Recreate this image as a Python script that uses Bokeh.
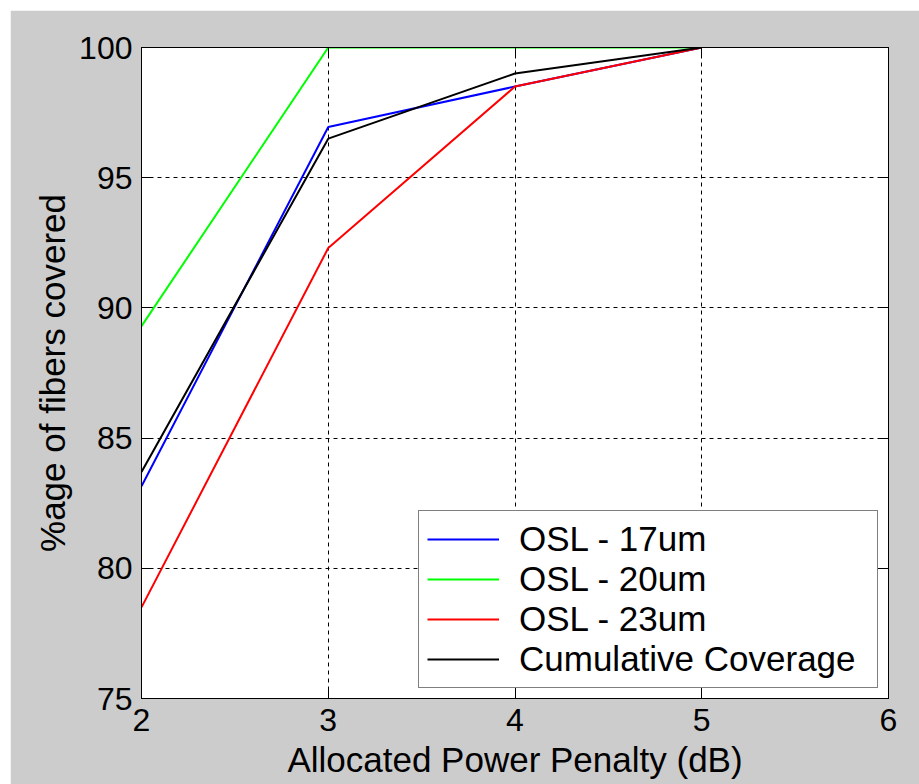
from bokeh.plotting import figure
from bokeh.models import Range1d, LinearAxis, FixedTicker, Legend, LegendItem, Spacer
from bokeh.layouts import column, row
from bokeh.embed import file_html
from bokeh.resources import INLINE

# ---- data ----
penalty_db = [2, 3, 4, 5]
osl_17um = [83.15, 96.95, 98.5, 100]
osl_20um = [89.3, 100, 100, 100]
osl_23um = [78.5, 92.3, 98.5, 100]
cumulative = [83.7, 96.5, 99.0, 100]
series_names = ["OSL - 17um", "OSL - 20um", "OSL - 23um", "Cumulative Coverage"]
series_colors = ["#0000ff", "#00ff00", "#ff0000", "#000000"]
x_ticks = [2, 3, 4, 5, 6]
y_ticks = [75, 80, 85, 90, 95, 100]
x_label = "Allocated Power Penalty (dB)"
y_label = "%age of fibers covered"

FONT = "Liberation Sans"
GRAY = "#cccccc"

p = figure(width=909, height=774, output_backend="svg", toolbar_location=None,
           x_range=Range1d(2, 6), y_range=Range1d(75, 100),
           background_fill_color="white", border_fill_color=GRAY,
           min_border_left=131, min_border_right=31, min_border_top=37, min_border_bottom=86)
p.outline_line_color = "black"
p.outline_line_width = 1

# grid
for g in (p.xgrid, p.ygrid):
    g.grid_line_color = "black"
    g.grid_line_dash = "4 4"
    g.grid_line_width = 1
p.xgrid.ticker = FixedTicker(ticks=x_ticks)
p.ygrid.ticker = FixedTicker(ticks=y_ticks)

def style_axis(ax, ticks, show_labels=True):
    ax.ticker = FixedTicker(ticks=ticks)
    ax.axis_line_color = "black"
    ax.major_tick_line_color = "black"
    ax.major_tick_in = 9
    ax.major_tick_out = 0
    ax.minor_tick_line_color = None
    ax.major_label_text_font = FONT
    ax.major_label_text_font_size = "32px"
    ax.major_label_text_color = "black" if show_labels else None
    ax.axis_label_text_font = FONT
    ax.axis_label_text_font_size = "35px"
    ax.axis_label_text_font_style = "normal"
    ax.axis_label_text_color = "black"

style_axis(p.xaxis[0], x_ticks)
style_axis(p.yaxis[0], y_ticks)
p.xaxis[0].axis_label = x_label
p.yaxis[0].axis_label = y_label
p.xaxis[0].major_label_standoff = 10
p.yaxis[0].major_label_standoff = 9
p.xaxis[0].axis_label_standoff = 6
p.yaxis[0].axis_label_standoff = 4

ax_top = LinearAxis()
style_axis(ax_top, x_ticks, show_labels=False)
ax_top.major_label_standoff = 0
p.add_layout(ax_top, "above")
ax_right = LinearAxis()
style_axis(ax_right, y_ticks, show_labels=False)
ax_right.major_label_standoff = 0
p.add_layout(ax_right, "right")

renderers = []
for ys, c in zip([osl_17um, osl_20um, osl_23um, cumulative], series_colors):
    r = p.line(penalty_db, ys, line_color=c, line_width=2)
    renderers.append(r)

legend = Legend(items=[LegendItem(label=n, renderers=[r]) for n, r in zip(series_names, renderers)],
                location="bottom_right", margin=10, padding=8, spacing=0,
                glyph_width=72, glyph_height=20, label_height=20, label_width=350,
                label_standoff=20,
                label_text_font=FONT, label_text_font_size="35px", label_text_color="black",
                border_line_color="black", border_line_width=1,
                background_fill_color="white", background_fill_alpha=1)
p.add_layout(legend)

layout = column(Spacer(height=10, width=919), row(Spacer(width=10, height=774), p))

open("out.html", "w").write(file_html(layout, INLINE))
